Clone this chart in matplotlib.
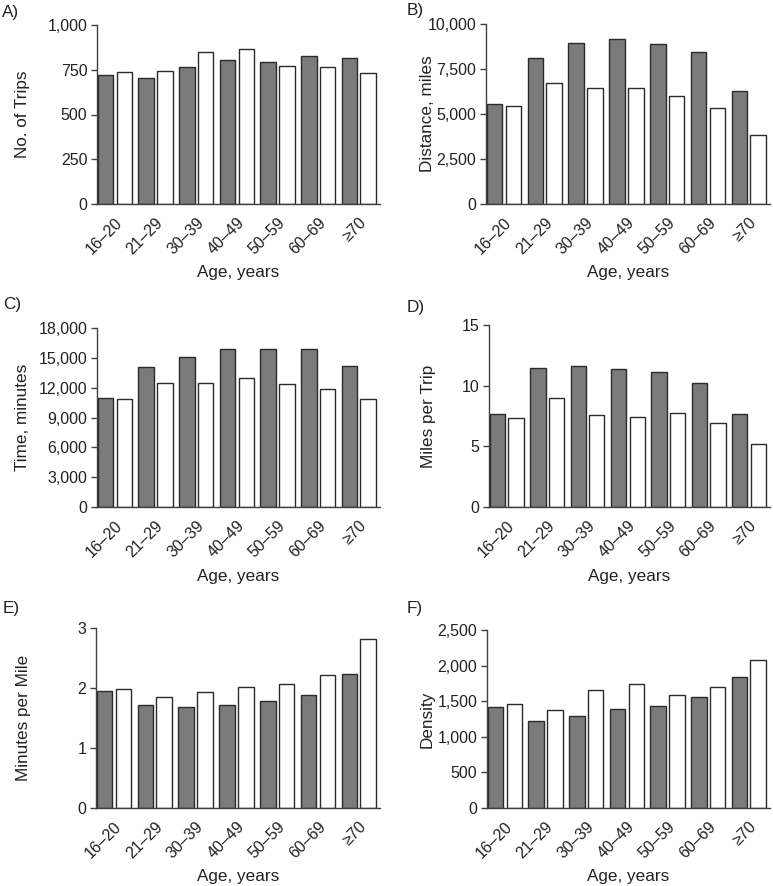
import numpy as np
import matplotlib
matplotlib.use("Agg")
import matplotlib.pyplot as plt

plt.rcParams["font.family"] = ["Liberation Sans", "DejaVu Sans"]

# Age groups
ages = ["16–20", "21–29", "30–39", "40–49", "50–59", "60–69", "≥70"]

# A) No. of trips
trips_dark = [719, 706, 765, 803, 795, 825, 814]
trips_white = [737, 743, 851, 864, 773, 763, 734]

# B) Distance, miles
dist_dark = [5570, 8120, 8940, 9180, 8900, 8440, 6290]
dist_white = [5460, 6700, 6440, 6440, 6000, 5330, 3830]

# C) Time, minutes
time_dark = [10930, 14080, 15120, 15890, 15920, 15920, 14150]
time_white = [10860, 12440, 12470, 12970, 12340, 11870, 10860]

# D) Miles per trip
mpt_dark = [7.70, 11.46, 11.62, 11.40, 11.13, 10.19, 7.69]
mpt_white = [7.37, 9.01, 7.55, 7.45, 7.73, 6.96, 5.19]

# E) Minutes per mile
mpm_dark = [1.95, 1.72, 1.69, 1.72, 1.78, 1.88, 2.24]
mpm_white = [1.98, 1.85, 1.93, 2.01, 2.06, 2.22, 2.82]

# F) Density
dens_dark = [1412, 1224, 1295, 1388, 1426, 1557, 1834]
dens_white = [1463, 1379, 1651, 1745, 1590, 1703, 2078]

W, H = 773, 886
fig = plt.figure(figsize=(W / 100, H / 100), dpi=100)

panels = [
    # label, ylabel, dark, white, yticks, ticklabels, box (left, right, top, bottom px), label pos, ylabel x
    ("A)", "No. of Trips", trips_dark, trips_white, [0, 250, 500, 750, 1000],
     ["0", "250", "500", "750", "1,000"], (97, 380, 25, 204), (2, 12), 23),
    ("B)", "Distance, miles", dist_dark, dist_white, [0, 2500, 5000, 7500, 10000],
     ["0", "2,500", "5,000", "7,500", "10,000"], (486, 770, 24, 204), (407, 11), 427),
    ("C)", "Time, minutes", time_dark, time_white, [0, 3000, 6000, 9000, 12000, 15000, 18000],
     ["0", "3,000", "6,000", "9,000", "12,000", "15,000", "18,000"], (97, 380, 328, 507), (3, 305), 23),
    ("D)", "Miles per Trip", mpt_dark, mpt_white, [0, 5, 10, 15],
     ["0", "5", "10", "15"], (489, 770, 325, 507), (407, 308), 428),
    ("E)", "Minutes per Mile", mpm_dark, mpm_white, [0, 1, 2, 3],
     ["0", "1", "2", "3"], (96, 380, 628, 808), (3, 608), 24),
    ("F)", "Density", dens_dark, dens_white, [0, 500, 1000, 1500, 2000, 2500],
     ["0", "500", "1,000", "1,500", "2,000", "2,500"], (487, 770, 630, 808), (407, 608), 427),
]

x = np.arange(len(ages))
bw = 0.38
text_col = "#222222"
edge_col = "#2a2a2a"

for lab, ylab, dark, white, yt, ytl, box, lpos, ylx in panels:
    l, r, t, b = box
    ax = fig.add_axes([l / W, 1 - b / H, (r - l) / W, (b - t) / H])
    ax.bar(x - 0.23, dark, width=bw, color="#7b7b7b", edgecolor=edge_col, linewidth=1.0)
    ax.bar(x + 0.23, white, width=bw, color="white", edgecolor=edge_col, linewidth=1.0)
    ax.set_xlim(-0.44, 6.52)
    ax.set_ylim(0, yt[-1])
    ax.set_yticks(yt)
    ax.set_yticklabels(ytl)
    ax.set_xticks(x)
    ax.set_xticklabels(ages, rotation=45, ha="right", rotation_mode="anchor")
    ax.tick_params(axis="y", length=4, width=1, pad=3, labelsize=11.5,
                   colors="#404040", labelcolor=text_col)
    ax.tick_params(axis="x", length=0, pad=8, labelsize=11.5, labelcolor=text_col)
    for s in ["top", "right"]:
        ax.spines[s].set_visible(False)
    for s in ["left", "bottom"]:
        ax.spines[s].set_color("#404040")
        ax.spines[s].set_linewidth(1.0)
    # x-axis title
    fig.text((l + r) / 2 / W, 1 - (b + 69) / H, "Age, years", ha="center", va="center",
             fontsize=12.3, color=text_col)
    # y-axis title
    fig.text(ylx / W, 1 - (t + b) / 2 / H, ylab, ha="center", va="center",
             rotation=90, fontsize=12.3, color=text_col)
    # panel letter
    fig.text(lpos[0] / W, 1 - lpos[1] / H, lab, ha="left", va="center",
             fontsize=12.3, color=text_col)

fig.savefig("out.png", dpi=100)
